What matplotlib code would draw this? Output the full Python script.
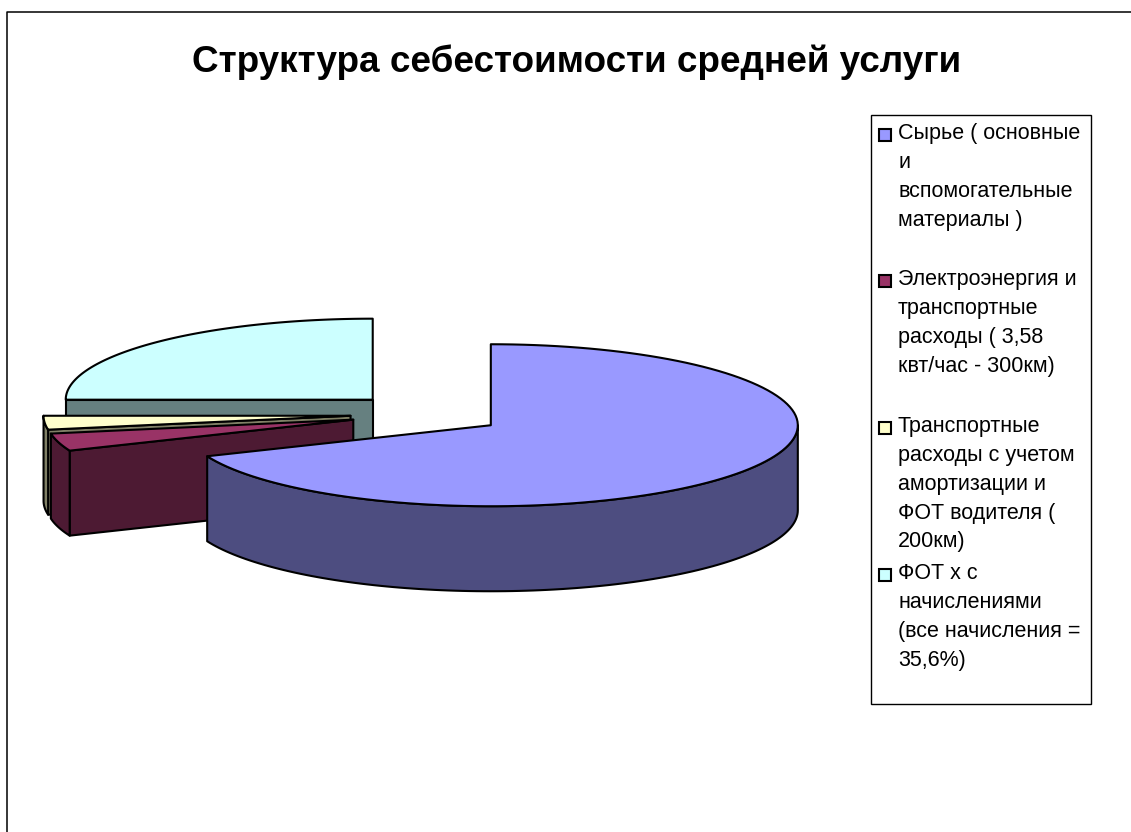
import numpy as np
import matplotlib
matplotlib.use("Agg")
import matplotlib.pyplot as plt
from matplotlib.patches import Polygon, Rectangle

plt.rcParams['font.family'] = ['Liberation Sans', 'DejaVu Sans']

title = "Структура себестоимости средней услуги"
labels = [
    "Сырье ( основные\nи\nвспомогательные\nматериалы )",
    "Электроэнергия и\nтранспортные\nрасходы ( 3,58\nквт/час - 300км)",
    "Транспортные\nрасходы с учетом\nамортизации и\nФОТ водителя (\n200км)",
    "ФОТ х с\nначислениями\n(все начисления =\n35,6%)",
]
values = [68.75, 3.5, 2.75, 25.0]
colors = ["#9999FF", "#993366", "#FFFFCC", "#CCFFFF"]
sides = ["#4D4D80", "#4D1A33", "#808066", "#668080"]
legend_y = [123, 269, 416, 563]   # top of each legend entry

# pie geometry, in pixels
cx, cy = 427, 414
rx, ry = 307, 81
depth = 85
explode = 0.25


def arc(x0, y0, a0, a1):
    t = np.radians(np.linspace(a0, a1, 120))
    return np.column_stack([x0 + rx * np.cos(t), y0 - ry * np.sin(t)])


fig = plt.figure(figsize=(11.31, 8.32), dpi=100)
ax = fig.add_axes([0, 0, 1, 1])
ax.set_xlim(0, 1131)
ax.set_ylim(832, 0)
ax.axis("off")

# chart frame
ax.plot([7, 7, 1131], [832, 12, 12], color="black", lw=1.1)

# slices go clockwise from the top
ends = 90 - np.cumsum(values) / sum(values) * 360
starts = np.r_[90, ends[:-1]]
for i in [3, 2, 1, 0]:
    a0, a1 = starts[i], ends[i]
    mid = np.radians((a0 + a1) / 2)
    x0 = cx + explode * rx * np.cos(mid)
    y0 = cy - explode * ry * np.sin(mid)
    style = dict(edgecolor="black", lw=1.5, joinstyle="round")

    # cut faces that look at the viewer
    for a, visible in [(a0, np.cos(np.radians(a0)) < -1e-6), (a1, np.cos(np.radians(a1)) > 1e-6)]:
        if visible:
            rim = arc(x0, y0, a, a)[0]
            ax.add_patch(Polygon([(x0, y0), rim, rim + [0, depth], (x0, y0 + depth)],
                                 facecolor=sides[i], **style))

    # outer wall, only the front half of the circle shows
    lo, hi = max(a1, -180), min(a0, 0)
    if a0 > 180:
        lo, hi = max(a1, 180), min(a0, 360)
    if lo < hi:
        top = arc(x0, y0, hi, lo)
        ax.add_patch(Polygon(np.vstack([top, top[::-1] + [0, depth]]),
                             facecolor=sides[i], **style))

    ax.add_patch(Polygon(np.vstack([[(x0, y0)], arc(x0, y0, a0, a1)]),
                         facecolor=colors[i], **style))

ax.text(576.5, 62, title, fontsize=26.6, fontweight="bold", ha="center", va="center")

# legend
ax.add_patch(Rectangle((870.5, 114.5), 220, 589, facecolor="white", edgecolor="black", lw=1.0))
for lab, col, y in zip(labels, colors, legend_y):
    ax.add_patch(Rectangle((879, y + 6), 12, 12, facecolor=col, edgecolor="black", lw=1.5))
    ax.text(898, y, lab, fontsize=15.5, va="top", ha="left", linespacing=1.49)

fig.savefig("out.png", dpi=100)
